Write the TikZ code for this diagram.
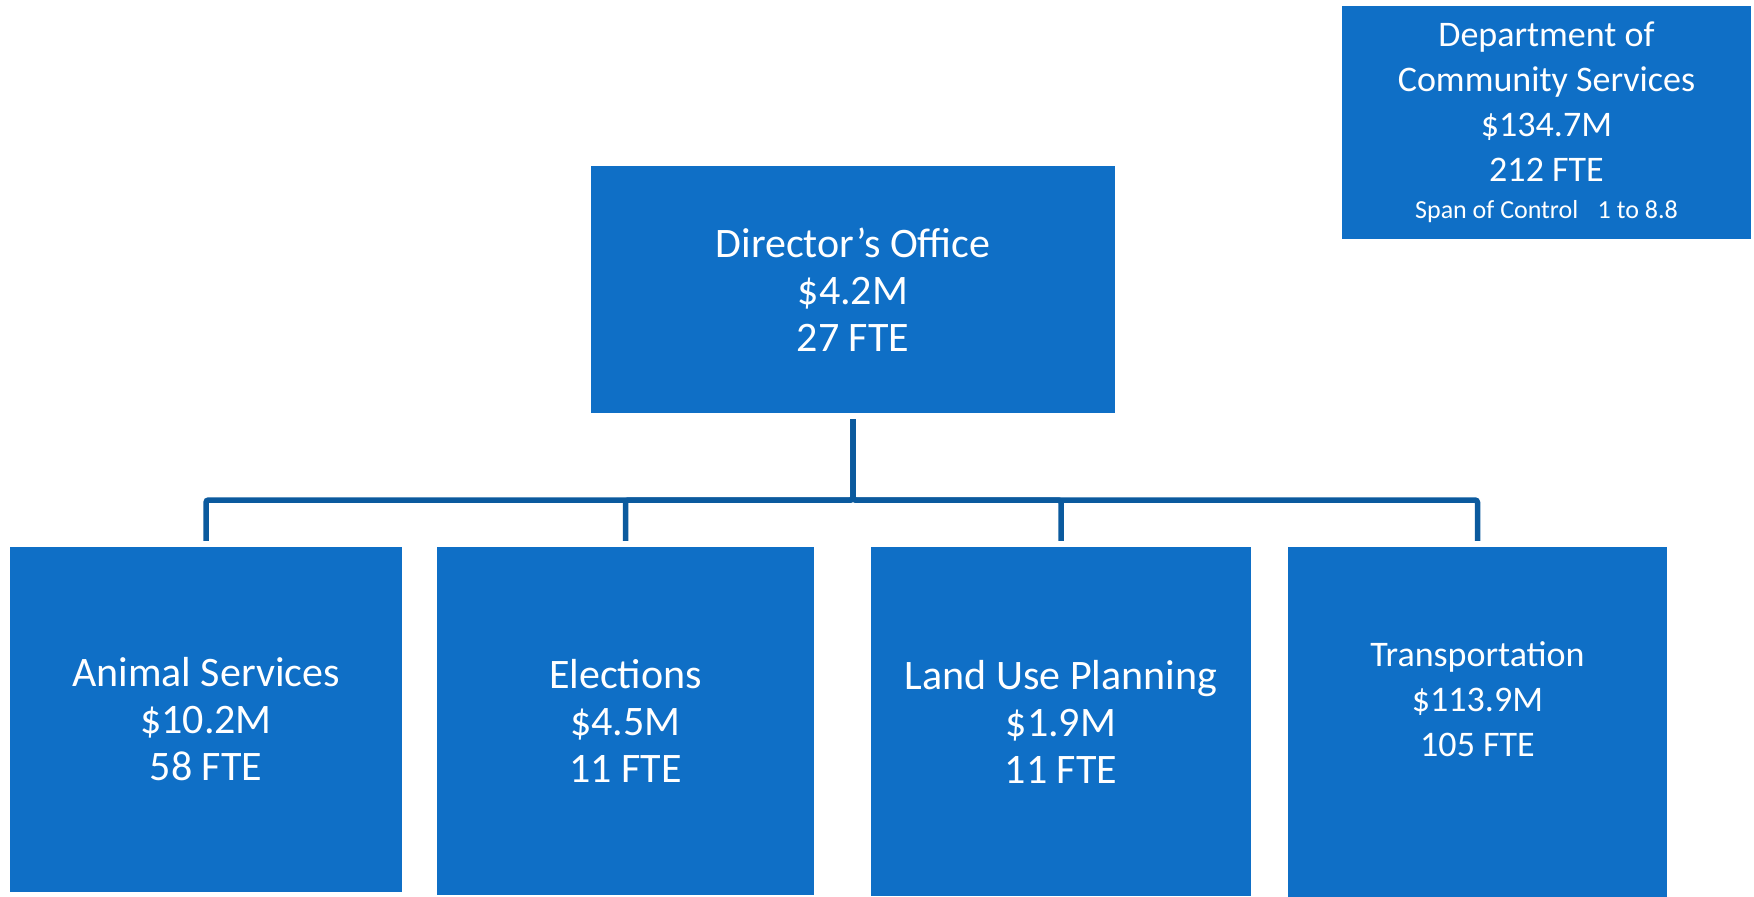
\documentclass[tikz,border=0pt]{standalone}
\usepackage{fontspec}
\setmainfont{Carlito}
\usepackage{xcolor}
\usepackage{tikz}
\usetikzlibrary{positioning, calc}

\definecolor{unitblue}{HTML}{0F6FC6}
\definecolor{linkblue}{HTML}{0B5A9E}

\begin{document}
\begin{tikzpicture}[
    x=1pt, y=-1pt,
    % Organisational unit boxes
    unit/.style={rectangle, fill=unitblue, text=white, inner sep=0pt,
                 align=center, font=\fontsize{42}{47}\selectfont},
    % Smaller lettering (summary box, transportation)
    smallunit/.style={unit, font=\fontsize{36}{45}\selectfont},
    % Reporting lines
    link/.style={draw=linkblue, line width=5.5pt, rounded corners=2.5pt}
]
\useasboundingbox (0,0) rectangle (1754,897);

%-------- DEPARTMENT SUMMARY --------
\node[smallunit, minimum width=409pt, minimum height=233pt] (dept) at (1546.5,122.5)
    {Department of\\Community Services\\\$134.7M\\212 FTE\\[-8pt]
     {\fontsize{26}{30}\selectfont Span of Control\hspace{0.75em}1 to 8.8}};

%-------- DIRECTOR --------
\node[unit, minimum width=524pt, minimum height=247pt] (director) at (853,289.5)
    {Director’s Office\\\$4.2M\\27 FTE};

%-------- DIVISIONS --------
\node[unit, minimum width=392pt, minimum height=345pt] (animal) at (206,719.5)
    {Animal Services\\\$10.2M\\58 FTE};
\node[unit, minimum width=377pt, minimum height=348pt] (elections) at (625.5,721)
    {Elections\\\$4.5M\\11 FTE};
\node[unit, minimum width=380pt, minimum height=349pt] (landuse) at (1061,721.5)
    {Land Use Planning\\\$1.9M\\11 FTE};
\node[smallunit, minimum width=379pt, minimum height=350pt] (transport) at (1477.5,722)
    {Transportation\\\$113.9M\\105 FTE\\\mbox{}};

%-------- REPORTING LINES --------
\coordinate (bus) at (853,500);
\foreach \u in {animal, elections, landuse, transport}
    \draw[link] ([yshift=-6pt]director.south) -- (director.south |- bus)
        -| ([yshift=6pt]\u.north);

\end{tikzpicture}
\end{document}
